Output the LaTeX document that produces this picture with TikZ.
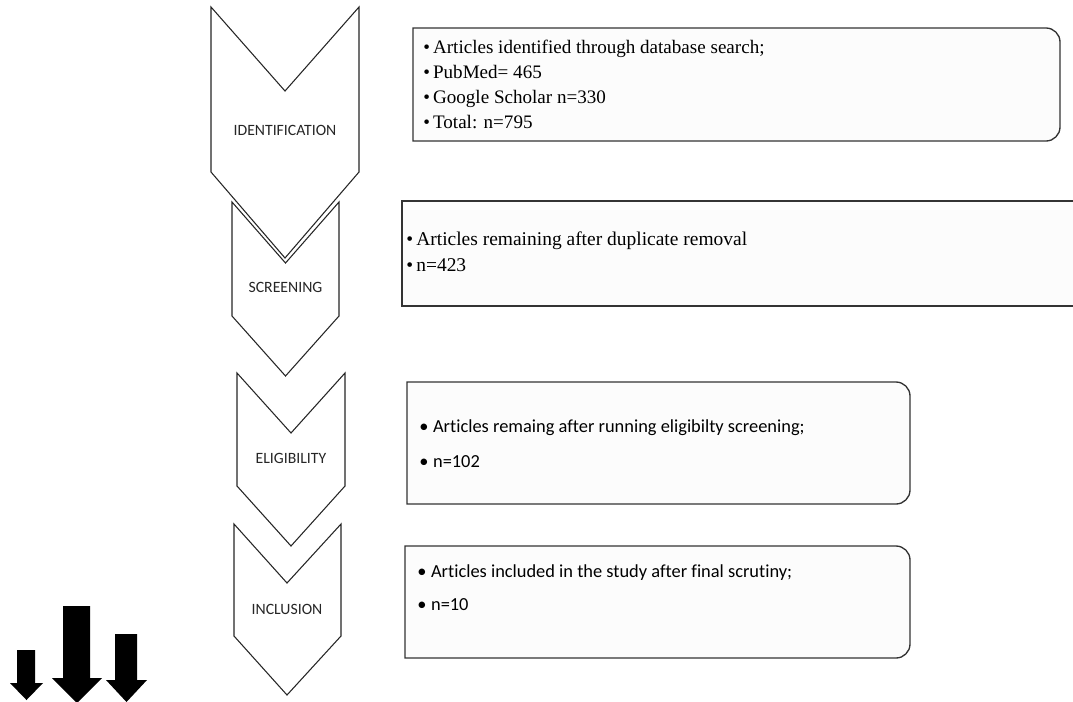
\documentclass[tikz,border=0pt]{standalone}
\usepackage{fontspec}
\newfontfamily\serifft{Liberation Serif}
\newfontfamily\carlito[Ligatures={NoCommon}]{Carlito}
\begin{document}
\begin{tikzpicture}[x=0.75pt,y=-0.75pt,
  chev/.style={draw=black!85,line width=0.8pt,fill=white,line join=miter},
  tbox/.style={draw=black!80,line width=1pt,fill=black!1},
  chevlabel/.style={font=\carlito\fontsize{11.8}{13}\selectfont,text=black!85,inner sep=0pt},
  sertext/.style={font=\serifft\fontsize{14.3}{16}\selectfont,anchor=base west,inner sep=0pt},
  sertextb/.style={font=\serifft\fontsize{14.6}{16}\selectfont,anchor=base west,inner sep=0pt},
  caltext/.style={font=\carlito\fontsize{13.8}{17}\selectfont,anchor=base west,inner sep=0pt},
  bigarrow/.style={fill=black,draw=none}]
\useasboundingbox (0,0) rectangle (1073,701);
\clip (0,0) rectangle (1073,701);
% chevrons
\draw[chev] (211,7) -- (285,91) -- (359,7) -- (359,172) -- (285,258) -- (211,172) -- cycle;
\draw[chev] (232,202) -- (285.5,263) -- (339,202) -- (339,316) -- (285.5,376) -- (232,316) -- cycle;
\draw[chev] (237,373) -- (291,433) -- (345,373) -- (345,486) -- (291,546) -- (237,486) -- cycle;
\draw[chev] (234,524) -- (287,583) -- (341,524) -- (341,636) -- (287,695) -- (234,636) -- cycle;
\node[chevlabel] (l1) at (285,130) {IDENTIFICATION};
\node[chevlabel] (l2) at (285.5,287) {SCREENING};
\node[chevlabel] (l3) at (291,458) {ELIGIBILITY};
\node[chevlabel] (l4) at (287,609) {INCLUSION};
% boxes
\draw[tbox] (413,28) -- (1046,28) arc[start angle=-90,end angle=0,radius=14] -- (1060,127) arc[start angle=0,end angle=90,radius=14] -- (413,141) -- cycle;
\path[fill=black!1] (402,201) rectangle (1080,306);
\draw[draw=black!80,line width=1pt] (1080,201) -- (402,201) -- (402,306) -- (1080,306);
\draw[tbox] (407,382) -- (896,382) arc[start angle=-90,end angle=0,radius=14] -- (910,490) arc[start angle=0,end angle=90,radius=14] -- (407,504) -- cycle;
\draw[tbox] (405,546) -- (896,546) arc[start angle=-90,end angle=0,radius=14] -- (910,644) arc[start angle=0,end angle=90,radius=14] -- (405,658) -- cycle;
% box texts
\node[sertext] (t11) at (423,53) {\textbullet\,Articles identified through database search;};
\node[sertext] (t12) at (423,78) {\textbullet\,PubMed= 465};
\node[sertext] (t13) at (423,103) {\textbullet\,Google Scholar n=330};
\node[sertext] (t14) at (423,128) {\textbullet\,Total: n=795};
\node[sertextb] (t21) at (406,245) {\textbullet\,Articles remaining after duplicate removal};
\node[sertextb] (t22) at (406,271) {\textbullet\,n=423};
\node[caltext] (t31) at (419,432) {\textbullet\hspace{3.5pt}Articles remaing after running eligibilty screening;};
\node[caltext] (t32) at (419,467) {\textbullet\hspace{3.5pt}n=102};
\node[caltext] (t41) at (417,577) {\textbullet\hspace{3.5pt}Articles included in the study after final scrutiny;};
\node[caltext] (t42) at (417,610) {\textbullet\hspace{3.5pt}n=10};
% arrows
\fill[bigarrow] (17,650) -- (35,650) -- (35,683) -- (43,683) -- (26.5,700) -- (10,683) -- (17,683) -- cycle;
\fill[bigarrow] (63,606) -- (90,606) -- (90,678) -- (102,678) -- (77,703) -- (52,678) -- (63,678) -- cycle;
\fill[bigarrow] (115,634) -- (137,634) -- (137,680) -- (147,680) -- (126.5,702) -- (106,680) -- (115,680) -- cycle;
\end{tikzpicture}
\end{document}
